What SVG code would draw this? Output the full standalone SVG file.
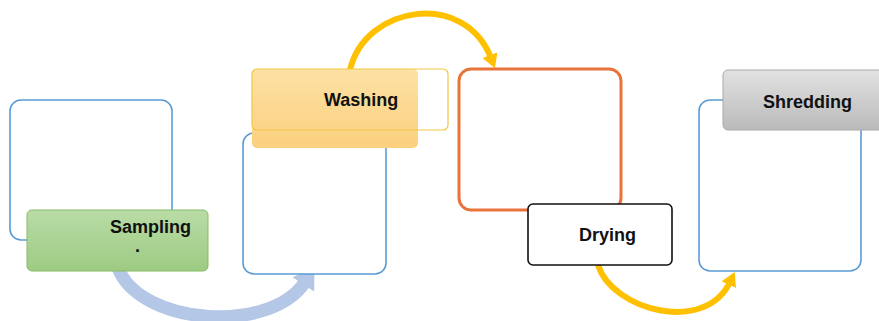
<svg xmlns="http://www.w3.org/2000/svg" width="879" height="321" viewBox="0 0 879 321">
<defs>
<linearGradient id="gGreen" x1="0" y1="0" x2="0" y2="1"><stop offset="0" stop-color="#b9dca6"/><stop offset="1" stop-color="#9dcb83"/></linearGradient>
<linearGradient id="gOrange" x1="0" y1="0" x2="0" y2="1"><stop offset="0" stop-color="#fde1a4"/><stop offset="1" stop-color="#fbd07e"/></linearGradient>
<linearGradient id="gGray" x1="0" y1="0" x2="0" y2="1"><stop offset="0" stop-color="#e2e2e2"/><stop offset="1" stop-color="#bababa"/></linearGradient>
<marker id="mBlue" viewBox="0 0 20 26" refX="3" refY="13" markerWidth="20" markerHeight="26" markerUnits="userSpaceOnUse" orient="auto"><path d="M0,0 L20,13 L0,26 z" fill="#b4c7e7"/></marker>
<marker id="mYel" viewBox="0 0 14 16" refX="3" refY="8" markerWidth="14" markerHeight="16" markerUnits="userSpaceOnUse" orient="auto"><path d="M0,0 L14,8 L0,16 z" fill="#ffc000"/></marker>
</defs>
<style>
.frame{fill:#fff;stroke:#5b9bd5;stroke-width:1.6}
.lbl{font-family:"Liberation Sans",Arial,sans-serif;font-weight:bold;font-size:18px;fill:#111}
.arrB{fill:none;stroke:#b4c7e7;stroke-width:13}
.arrY{fill:none;stroke:#ffc000;stroke-width:6}
</style>
<rect width="879" height="321" fill="#fff"/>
<g id="connectors">
<path class="arrB" d="M118 268 C140 325, 270 335, 305 282" marker-end="url(#mBlue)"/>
<path class="arrY" d="M350 70 C365 5, 465 -10, 491 58" marker-end="url(#mYel)"/>
<path class="arrY" d="M598 265 C612 310, 705 335, 730 282" marker-end="url(#mYel)"/>
</g>
<g id="sampling">
<rect class="frame" x="10" y="100" width="162" height="140" rx="11"/>
<rect x="27" y="210" width="181" height="61" rx="5" fill="url(#gGreen)" stroke="#86bd64" stroke-width="1"/>
<text class="lbl" x="110" y="233">Sampling</text>
<text class="lbl" x="135" y="252">.</text>
</g>
<g id="washing">
<rect class="frame" x="243" y="133" width="143" height="141" rx="11"/>
<rect x="252" y="69" width="166" height="79" rx="5" fill="url(#gOrange)"/>
<rect x="252" y="69" width="196" height="61" rx="5" fill="none" stroke="#f2c744" stroke-width="1.2"/>
<text class="lbl" x="324" y="106">Washing</text>
</g>
<g id="drying">
<rect x="459" y="69" width="162" height="141" rx="12" fill="#fff" stroke="#e8743b" stroke-width="3"/>
<rect x="528" y="204" width="144" height="61" rx="5" fill="#fff" stroke="#111" stroke-width="1.6"/>
<text class="lbl" x="579" y="241">Drying</text>
</g>
<g id="shredding">
<rect class="frame" x="699" y="100" width="162" height="171" rx="11"/>
<rect x="723" y="70" width="170" height="60" rx="5" fill="url(#gGray)" stroke="#a9a9a9" stroke-width="1"/>
<text class="lbl" x="763" y="108">Shredding</text>
</g>
</svg>
